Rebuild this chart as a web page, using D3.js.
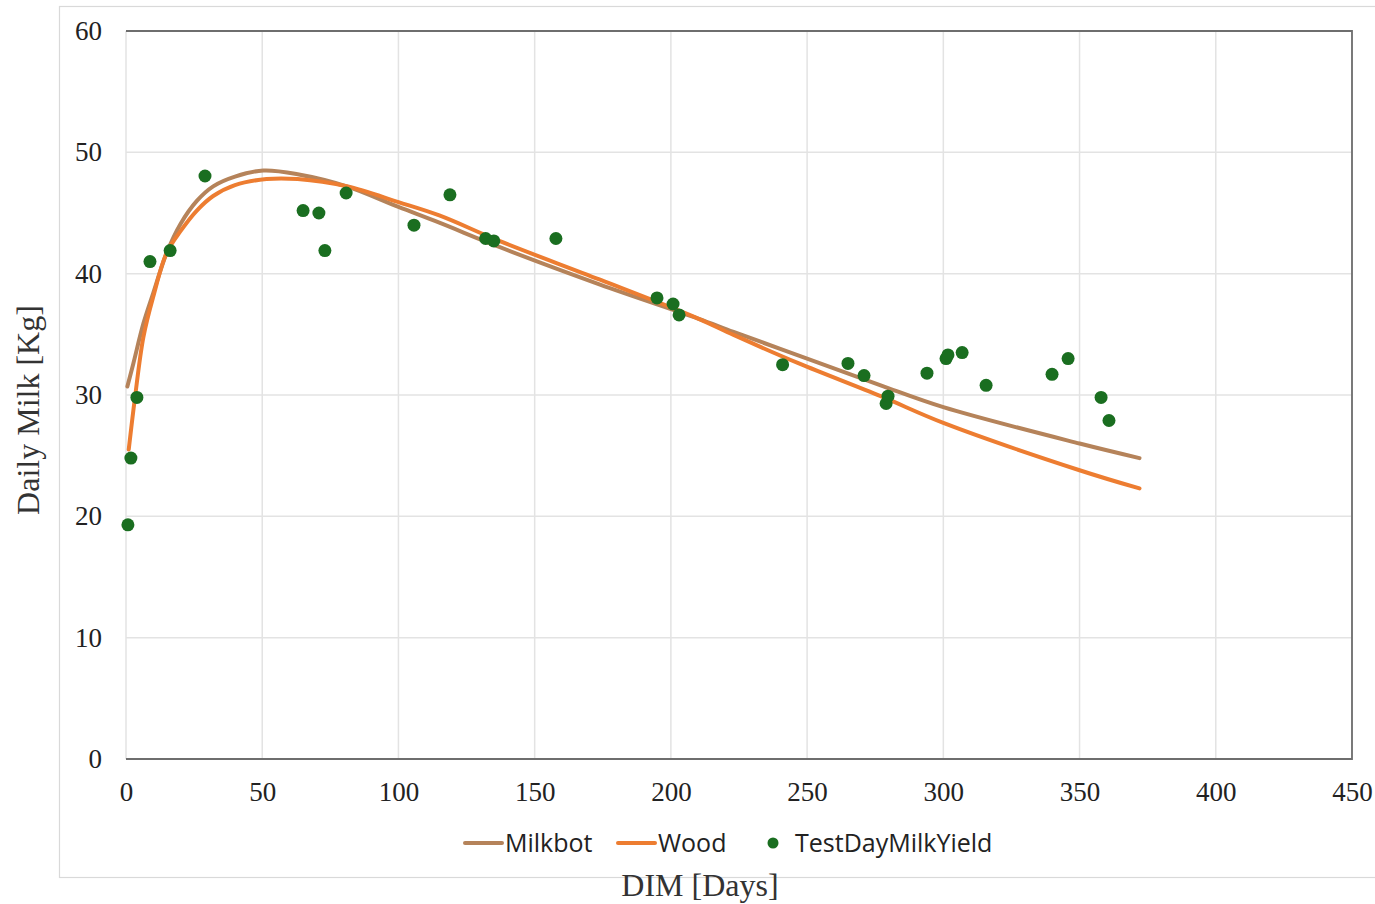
<!DOCTYPE html>
<html>
<head>
<meta charset="utf-8">
<script src="https://cdn.jsdelivr.net/npm/d3@7"></script>
<style>
  body { margin: 0; background: #fff; }
  svg { display: block; }
</style>
</head>
<body>
<div class="canvas"></div>
<script>
// test day records (DIM, kg)
const testDays = [0.7, 1.8, 4.0, 8.8, 16.2, 29.0, 65, 70.8, 73.0, 80.8, 105.7, 118.9, 132, 135, 157.8,
  194.9, 200.8, 203, 241, 265, 270.9, 279, 279.7, 294, 301, 301.7, 306.9, 315.7, 339.9, 345.8, 357.9, 360.8];
const testYields = [19.3, 24.8, 29.8, 41.0, 41.9, 48.05, 45.2, 45.0, 41.9, 46.65, 44.0, 46.5, 42.9, 42.7, 42.9,
  38.0, 37.5, 36.6, 32.5, 32.6, 31.6, 29.3, 29.9, 31.8, 33.0, 33.3, 33.5, 30.8, 31.7, 33.0, 29.8, 27.9];

// fitted curves
const milkbotDays = [0.5, 2.7, 6.4, 10, 14.9, 20, 26, 32, 40, 50.4, 63, 81, 100, 115, 137, 174, 210, 223, 250, 277, 300, 350, 372];
const milkbotYields = [30.7, 32.6, 35.9, 38.4, 41.7, 44.1, 46.0, 47.2, 48.0, 48.5, 48.2, 47.2, 45.5, 44.2, 42.2, 39.1, 36.3, 35.2, 33.0, 30.8, 29.0, 26.0, 24.8];
const woodDays = [1, 3.3, 6.4, 10, 14.9, 20, 26, 32, 40, 51.6, 63, 81, 100, 115, 137, 174, 210, 223, 247, 277, 300, 350, 372];
const woodYields = [25.5, 29.8, 34.8, 38.1, 41.7, 43.5, 45.2, 46.4, 47.3, 47.8, 47.8, 47.2, 45.9, 44.8, 42.7, 39.5, 36.3, 34.95, 32.6, 29.9, 27.7, 23.8, 22.3];

const xTicks = [0, 50, 100, 150, 200, 250, 300, 350, 400, 450];
const yTicks = [0, 10, 20, 30, 40, 50, 60];

const W = 1375, H = 904;
const plot = { left: 126, top: 31, right: 1352, bottom: 759 };

const svg = d3.select(".canvas").append("svg").attr("width", W).attr("height", H);

// outer chart frame
svg.append("rect")
  .attr("x", 59.5).attr("y", 6.5)
  .attr("width", W).attr("height", 871)
  .attr("fill", "none").attr("stroke", "#d9d9d9").attr("stroke-width", 1.2);

const x = d3.scaleLinear().domain([0, 450]).range([plot.left, plot.right]);
const y = d3.scaleLinear().domain([0, 60]).range([plot.bottom, plot.top]);

const serif = "'Liberation Serif', 'Times New Roman', serif";

// grid
svg.append("g").selectAll("line").data(xTicks).join("line")
  .attr("x1", d => x(d)).attr("x2", d => x(d))
  .attr("y1", plot.top).attr("y2", plot.bottom)
  .attr("stroke", "#e3e3e3").attr("stroke-width", 1.5);
svg.append("g").selectAll("line").data(yTicks).join("line")
  .attr("x1", plot.left).attr("x2", plot.right)
  .attr("y1", d => y(d)).attr("y2", d => y(d))
  .attr("stroke", "#e3e3e3").attr("stroke-width", 1.5);

// frame: top, right, bottom darker
svg.append("path")
  .attr("d", `M${plot.left},${plot.top}H${plot.right}V${plot.bottom}H${plot.left}`)
  .attr("fill", "none").attr("stroke", "#6e6e6e").attr("stroke-width", 1.8);

// axes (labels only)
const xAxis = svg.append("g")
  .attr("transform", `translate(0,${plot.bottom})`)
  .call(d3.axisBottom(x).tickValues(xTicks).tickSize(0).tickPadding(23));
const yAxis = svg.append("g")
  .attr("transform", `translate(${plot.left},0)`)
  .call(d3.axisLeft(y).tickValues(yTicks).tickSize(0).tickPadding(24));
[xAxis, yAxis].forEach(g => {
  g.attr("font-family", null).attr("font-size", null);
  g.select(".domain").remove();
  g.selectAll("text")
    .style("font-family", serif)
    .style("font-size", "27px")
    .attr("fill", "#222");
});

// curves
const line = d3.line().x(d => x(d[0])).y(d => y(d[1])).curve(d3.curveCatmullRom.alpha(0.5));

svg.append("path")
  .datum(d3.zip(milkbotDays, milkbotYields))
  .attr("d", line)
  .attr("fill", "none").attr("stroke", "#b5835a").attr("stroke-width", 4)
  .attr("stroke-linecap", "round");

svg.append("path")
  .datum(d3.zip(woodDays, woodYields))
  .attr("d", line)
  .attr("fill", "none").attr("stroke", "#ed7d31").attr("stroke-width", 4)
  .attr("stroke-linecap", "round");

// test day points
svg.append("g").selectAll("circle")
  .data(d3.zip(testDays, testYields)).join("circle")
  .attr("cx", d => x(d[0])).attr("cy", d => y(d[1]))
  .attr("r", 6.5).attr("fill", "#1a6e20");

// axis titles
svg.append("text")
  .attr("transform", "translate(39,410) rotate(-90)")
  .attr("text-anchor", "middle")
  .style("font-family", serif).style("font-size", "32px").attr("fill", "#333")
  .text("Daily Milk [Kg]");

svg.append("text")
  .attr("x", 700).attr("y", 896)
  .attr("text-anchor", "middle")
  .style("font-family", serif).style("font-size", "32px").attr("fill", "#333")
  .text("DIM [Days]");

// legend
const legend = svg.append("g")
  .style("font-family", "'Open Sans', 'Noto Sans', sans-serif")
  .style("font-size", "25px").attr("fill", "#222");
const lgY = 843;
const items = [
  { name: "Milkbot", color: "#b5835a", x0: 465, type: "line" },
  { name: "Wood", color: "#ed7d31", x0: 618, type: "line" },
  { name: "TestDayMilkYield", color: "#1a6e20", x0: 764, type: "dot" }
];
items.forEach(it => {
  if (it.type === "line") {
    legend.append("line")
      .attr("x1", it.x0).attr("x2", it.x0 + 37).attr("y1", lgY).attr("y2", lgY)
      .attr("stroke", it.color).attr("stroke-width", 4).attr("stroke-linecap", "round");
    legend.append("text").attr("x", it.x0 + 40).attr("y", lgY + 9).text(it.name);
  } else {
    legend.append("circle").attr("cx", it.x0 + 9).attr("cy", lgY).attr("r", 5.5).attr("fill", it.color);
    legend.append("text").attr("x", it.x0 + 31).attr("y", lgY + 9).text(it.name);
  }
});
</script>
</body>
</html>
